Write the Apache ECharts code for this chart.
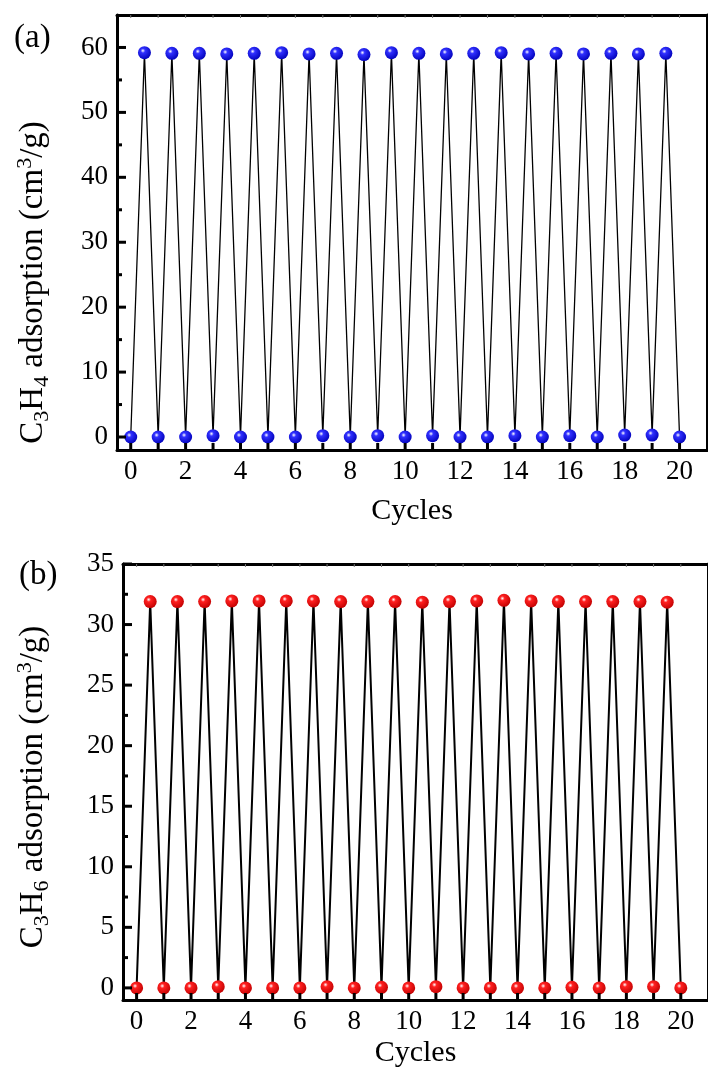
<!DOCTYPE html>
<html>
<head>
<meta charset="utf-8">
<script src="https://cdn.jsdelivr.net/npm/echarts@6/dist/echarts.min.js"></script>
<style>
html,body{margin:0;padding:0;background:#fff;}
#c{width:708px;height:1070px;}
</style>
</head>
<body>
<div id="c"></div>
<script>
// ---- data ----
const desorbX = [0,1,2,3,4,5,6,7,8,9,10,11,12,13,14,15,16,17,18,19,20];
const adsorbX = [0.5,1.5,2.5,3.5,4.5,5.5,6.5,7.5,8.5,9.5,10.5,11.5,12.5,13.5,14.5,15.5,16.5,17.5,18.5,19.5];
const c3h4Low  = [0,0,0,0.2,0,0,0,0.2,0,0.2,0,0.2,0,0,0.2,0,0.2,0,0.3,0.3,0];
const c3h4High = [59.2,59.1,59.1,59.0,59.1,59.2,59.0,59.1,58.9,59.2,59.1,59.0,59.1,59.2,59.0,59.1,59.0,59.1,59.0,59.1];
const c3h6Low  = [0,0,0,0.1,0,0,0,0.1,0,0.05,0,0.1,0,0,0,0,0.05,0,0.1,0.1,0];
const c3h6High = [31.9,31.9,31.9,31.95,31.95,31.95,31.95,31.9,31.9,31.9,31.85,31.9,31.95,32.0,31.95,31.9,31.9,31.9,31.9,31.85];
const xTicks = [0,1,2,3,4,5,6,7,8,9,10,11,12,13,14,15,16,17,18,19,20];
const xLabels = [0,2,4,6,8,10,12,14,16,18,20];
const yMajorA = [0,10,20,30,40,50,60];
const yMinorA = [5,15,25,35,45,55];
const yMajorB = [0,5,10,15,20,25,30,35];
const yMinorB = [2.5,7.5,12.5,17.5,22.5,27.5,32.5];
const X_RANGE = [-0.5, 21];
const A_RANGE = [-2, 65];
const B_RANGE = [-1, 35];

function cycleSeries(low, high){
  const pts = [];
  for (let i = 0; i < desorbX.length; i++){
    pts.push([desorbX[i], low[i]]);
    if (i < adsorbX.length) pts.push([adsorbX[i], high[i]]);
  }
  return pts;
}

const FONT = 'Liberation Serif';
const ball = (mid, edge) => ({
  type:'radial', x:0.38, y:0.35, r:0.7,
  colorStops:[{offset:0,color:'#ffffff'},{offset:0.25,color:mid},{offset:1,color:edge}]
});

// tick marks drawn through the axes' own scales (api.coord)
function tickSeries(xi, yi, vals, side, axisVal, len, color, w){
  return {
    type:'custom', xAxisIndex:xi, yAxisIndex:yi, silent:true, z:5, clip:false,
    data:vals.map(v => [v]),
    encode:{x:0},
    renderItem:(params, api) => {
      const v = api.value(0);
      let p, x2, y2;
      if (side === 'left'){ p = api.coord([axisVal, v]); x2 = p[0] + len; y2 = p[1]; }
      else if (side === 'bottom'){ p = api.coord([v, axisVal]); x2 = p[0]; y2 = p[1] - len; }
      else { p = api.coord([v, axisVal]); x2 = p[0]; y2 = p[1] + len; }
      return {type:'line', shape:{x1:p[0], y1:p[1], x2:x2, y2:y2},
              style:{stroke:color, lineWidth:w}};
    }
  };
}

const chart = echarts.init(document.getElementById('c'));
const grids = [
  {left:117, right:1, top:15, height:435},
  {left:123, right:-5, top:564, height:436}
];
function bottomX(gi, gap){
  return {
    type:'value', gridIndex:gi, position:'bottom', min:X_RANGE[0], max:X_RANGE[1],
    axisLine:{show:true, onZero:false, lineStyle:{color:'#000', width:3}},
    axisTick:{show:false},
    axisLabel:{show:true, customValues:xLabels, margin:8, color:'#000', fontFamily:FONT, fontSize:27},
    splitLine:{show:false},
    name:'Cycles', nameLocation:'middle', nameGap:gap,
    nameTextStyle:{color:'#000', fontFamily:FONT, fontSize:30}
  };
}
function topX(gi){
  return {
    type:'value', gridIndex:gi, position:'top', min:X_RANGE[0], max:X_RANGE[1],
    axisLine:{show:true, onZero:false, lineStyle:{color:'#000', width:3}},
    axisTick:{show:false}, axisLabel:{show:false}, splitLine:{show:false}
  };
}
function leftY(gi, range, major, name, gap, pad){
  return {
    type:'value', gridIndex:gi, position:'left', min:range[0], max:range[1],
    axisLine:{show:true, onZero:false, lineStyle:{color:'#000', width:3}},
    axisTick:{show:false},
    axisLabel:{show:true, customValues:major, margin:9, color:'#000', fontFamily:FONT, fontSize:27},
    splitLine:{show:false},
    name:name, nameLocation:'middle', nameGap:gap,
    nameTextStyle:{color:'#000', fontFamily:FONT, fontSize:33, padding:pad,
      rich:{
        sub:{fontFamily:FONT, fontSize:22, color:'#000', padding:[18,0,0,0]},
        sup:{fontFamily:FONT, fontSize:22, color:'#000', padding:[0,0,15,0]}
      }}
  };
}
function rightY(gi, range){
  return {
    type:'value', gridIndex:gi, position:'right', min:range[0], max:range[1],
    axisLine:{show:true, onZero:false, lineStyle:{color:'#000', width:3}},
    axisTick:{show:false}, axisLabel:{show:false}, splitLine:{show:false}
  };
}

chart.setOption({
  animation:false,
  backgroundColor:'#fff',
  grid:grids,
  xAxis:[bottomX(0, 46), topX(0), bottomX(1, 38), topX(1)],
  yAxis:[
    leftY(0, A_RANGE, yMajorA, 'C{sub|3}H{sub|4} adsorption (cm{sup|3}/g)', 64, [0,100,0,0]),
    rightY(0, A_RANGE),
    leftY(1, B_RANGE, yMajorB, 'C{sub|3}H{sub|6} adsorption (cm{sup|3}/g)', 70, [0,10,0,0]),
    rightY(1, B_RANGE)
  ],
  series:[
    {
      type:'line', xAxisIndex:0, yAxisIndex:0, data:cycleSeries(c3h4Low, c3h4High),
      symbol:'circle', symbolSize:13, showAllSymbol:true, z:3,
      lineStyle:{color:'#000', width:1.3},
      itemStyle:{color:ball('#3030ff','#0000b8'), borderWidth:0}
    },
    {
      type:'line', xAxisIndex:2, yAxisIndex:2, data:cycleSeries(c3h6Low, c3h6High),
      symbol:'circle', symbolSize:13, showAllSymbol:true, z:3,
      lineStyle:{color:'#000', width:2},
      itemStyle:{color:ball('#ff2020','#c00000'), borderWidth:0}
    },
    tickSeries(0, 0, yMajorA, 'left', X_RANGE[0], 9, '#000', 3),
    tickSeries(0, 0, yMinorA, 'left', X_RANGE[0], 5, '#000', 3),
    tickSeries(0, 0, xTicks, 'bottom', A_RANGE[0], 7, '#000', 3),
    tickSeries(0, 0, xTicks, 'top', A_RANGE[1], 3, '#777', 1),
    tickSeries(2, 2, yMajorB, 'left', X_RANGE[0], 9, '#000', 3),
    tickSeries(2, 2, yMinorB, 'left', X_RANGE[0], 5, '#000', 3),
    tickSeries(2, 2, xTicks, 'bottom', B_RANGE[0], 7, '#000', 3),
    tickSeries(2, 2, xTicks, 'top', B_RANGE[1], 3, '#777', 1)
  ],
  graphic:[
    {type:'text', left:14, top:22, style:{text:'(a)', font:'33px "Liberation Serif"', fill:'#000'}},
    {type:'text', left:19, top:559, style:{text:'(b)', font:'33px "Liberation Serif"', fill:'#000'}}
  ]
});
</script>
</body>
</html>
